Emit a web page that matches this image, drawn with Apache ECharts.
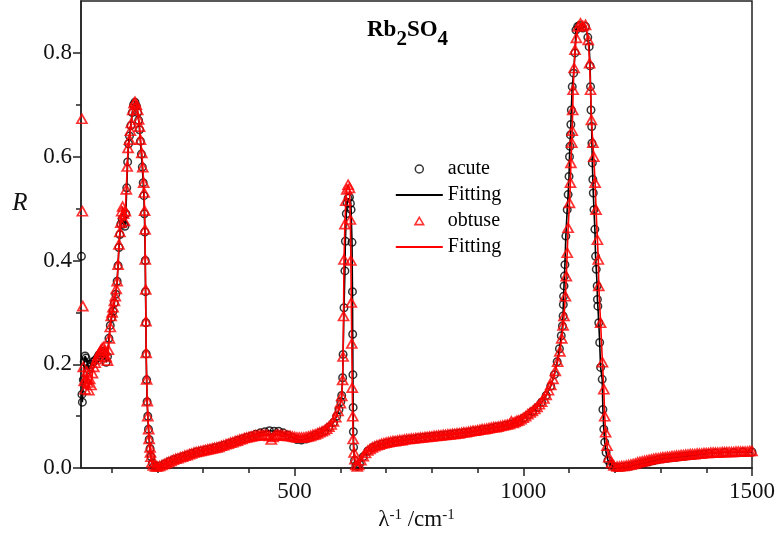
<!DOCTYPE html>
<html>
<head>
<meta charset="utf-8">
<script src="https://cdn.jsdelivr.net/npm/echarts@6/dist/echarts.min.js"></script>
<style>
html, body { margin: 0; padding: 0; background: #fff; }
#container { width: 778px; height: 536px; }
</style>
</head>
<body>
<div id="container"></div>
<script>
// [wavenumber cm^-1, R]
var acute = [
[34,.408],[35,.142],[36,.127],[38,.170],[40,.205],[42,.216],[44,.212],[47,.200],[50,.190],[53,.195],
[56,.200],[60,.205],[64,.208],[68,.212],[72,.218],[76,.222],[80,.225],[84,.222],[88,.204],[91,.215],
[94,.250],[97,.275],[100,.290],[103,.302],[106,.318],[109,.335],[112,.360],[114,.390],[116,.425],[118,.450],
[120,.470],[123,.480],[126,.470],[129,.466],[131,.490],[133,.540],[135,.590],[137,.625],[139,.640],[142,.660],
[145,.685],[148,.700],[151,.705],[154,.698],[157,.685],[159,.670],[161,.652],[163,.630],[165,.605],[167,.580],
[169,.550],[170.5,.525],[171.5,.490],[172.5,.455],[173.5,.400],[174,.340],[175,.280],[175.5,.220],[176.5,.170],[177.5,.128],
[179,.100],[180.5,.075],[182,.055],[184,.038],[186,.022],[189,.010],[193,.004],[198,.002],
[205,.004],[215,.008],[225,.012],[235,.016],[245,.019],[255,.022],[265,.025],[275,.028],[285,.031],[295,.033],
[305,.035],[315,.037],[325,.039],[335,.041],[345,.044],[355,.047],[365,.050],[375,.053],[385,.056],[395,.059],
[405,.062],[415,.065],[425,.068],[435,.070],[445,.072],[455,.071],[465,.071],[475,.068],[485,.064],[495,.059],
[505,.055],[515,.054],[525,.056],[535,.060],[545,.064],[555,.068],[565,.072],[575,.079],[585,.088],[592,.100],
[597,.113],[601,.128],[603,.140],[605,.174],[606,.219],[608,.309],[610,.380],[611,.437],[613,.490],[615,.511],
[617,.520],[620,.522],[622,.510],[623.5,.498],[625.5,.435],[626.5,.340],[627,.258],[627.5,.180],[628,.117],[628.5,.070],
[629,.040],[631,.015],[634,.005],[637,.003],[642,.008],[650,.022],[660,.033],[670,.039],[680,.043],[690,.046],
[700,.048],[710,.050],[720,.052],[730,.053],[740,.054],[750,.055],[760,.056],[770,.058],[780,.059],[790,.060],
[800,.061],[810,.062],[820,.063],[830,.064],[840,.065],[850,.066],[860,.067],[870,.068],[880,.069],[890,.071],
[900,.072],[910,.074],[920,.075],[930,.077],[940,.079],[950,.080],[960,.082],[970,.084],[980,.087],[990,.091],
[1000,.096],[1010,.102],[1020,.109],[1030,.117],[1040,.127],[1050,.140],[1060,.158],[1068,.180],[1074,.205],[1079,.230],
[1083,.255],[1085.5,.274],[1087,.293],[1087.5,.315],[1088,.331],[1089,.351],[1090,.370],[1091,.392],[1093,.447],[1096,.498],
[1098,.527],[1100,.562],[1101,.600],[1102,.620],[1103,.642],[1104,.662],[1105,.690],[1107,.735],[1110,.761],[1113,.800],
[1115,.844],[1119,.851],[1123,.853],[1130,.848],[1136,.851],[1141,.830],[1144,.812],[1146,.775],[1147,.735],[1148,.690],
[1149.5,.658],[1150,.626],[1151,.588],[1152,.556],[1153,.530],[1154.5,.498],[1156.5,.460],[1158,.408],[1159.5,.383],[1161.5,.351],
[1162,.325],[1163,.312],[1165,.280],[1167,.242],[1169,.194],[1172.5,.171],[1174,.113],[1176,.075],[1178,.050],[1181,.030],
[1185,.015],[1190,.007],[1197,.003],[1205,.001],[1215,.002],[1225,.003],[1235,.004],[1245,.006],[1255,.008],[1265,.010],
[1275,.012],[1285,.014],[1295,.016],[1305,.018],[1315,.019],[1325,.020],[1335,.021],[1345,.022],[1355,.023],[1365,.024],
[1375,.025],[1385,.026],[1395,.027],[1405,.028],[1420,.029],[1440,.030],[1460,.030],[1480,.031],[1500,.031]
];

var obtuse = [
[35,.673],[36,.495],[37,.312],[38,.195],[40,.168],[42,.152],[44,.172],[46,.186],[48,.165],[50,.150],
[52,.172],[55,.160],[58,.183],[61,.195],[64,.203],[67,.210],[70,.216],[73,.222],[76,.227],[79,.231],
[82,.233],[85,.226],[88,.214],[91,.207],[93,.228],[95,.250],[97,.272],[99,.293],[101,.300],[103,.310],
[106,.322],[108,.331],[110,.345],[112,.360],[114,.392],[116,.431],[118,.455],[120,.473],[122,.495],[124,.504],
[126,.490],[128,.476],[130,.495],[132,.537],[134,.581],[136,.617],[139,.633],[141,.650],[143,.665],[146,.690],
[149,.703],[151,.706],[154,.700],[157,.690],[159,.672],[161,.658],[163,.633],[166,.607],[168,.580],[170,.550],
[171,.531],[172,.496],[173,.460],[173.5,.402],[174.5,.344],[175,.283],[175.5,.222],[176.5,.171],[178,.129],[179,.100],
[181,.075],[182,.056],[184,.040],[185,.030],[186,.022],[188,.011],[191,.005],[196,.003],
[200,.003],[205,.004],[210,.006],[215,.008],[220,.010],[225,.012],[230,.014],[235,.016],[240,.018],[245,.019],
[250,.021],[255,.022],[260,.024],[265,.025],[270,.027],[275,.028],[280,.030],[285,.031],[290,.032],[295,.033],
[300,.034],[305,.035],[310,.036],[315,.037],[320,.038],[325,.039],[330,.040],[335,.041],[340,.043],[345,.044],
[350,.046],[355,.047],[360,.049],[365,.050],[370,.052],[375,.053],[380,.055],[385,.056],[390,.058],[395,.059],
[400,.060],[405,.061],[410,.062],[415,.063],[420,.063],[425,.064],[430,.064],[435,.064],[440,.064],[445,.062],
[449,.055],[453,.060],[457,.063],[461,.064],[465,.064],[470,.064],[475,.063],[480,.063],[485,.062],[490,.062],
[495,.061],[500,.060],[505,.059],[510,.059],[515,.059],[520,.059],[525,.060],[530,.061],[535,.062],[540,.064],
[545,.065],[550,.067],[555,.069],[560,.071],[565,.073],[570,.076],[575,.080],[580,.084],[585,.090],[590,.098],
[595,.110],[600,.125],[603,.139],[605,.170],[606,.215],[607,.293],[608,.402],[610,.470],[612,.515],[614,.537],
[617,.546],[620,.540],[622,.479],[623,.400],[624,.319],[625,.240],[626,.155],[627,.100],[628,.056],[630,.030],
[632,.017],[634,.006],[637,.003],[640,.006],[645,.015],[650,.023],[655,.029],[660,.034],[665,.037],[670,.040],
[675,.042],[680,.044],[685,.045],[690,.047],[695,.048],[700,.049],[705,.050],[710,.051],[715,.052],[720,.052],
[725,.053],[730,.054],[735,.054],[740,.055],[745,.056],[750,.056],[755,.057],[760,.057],[765,.058],[770,.058],
[775,.059],[780,.059],[785,.060],[790,.060],[795,.061],[800,.061],[805,.062],[810,.062],[815,.063],[820,.063],
[825,.064],[830,.064],[835,.065],[840,.065],[845,.066],[850,.066],[855,.067],[860,.067],[865,.068],[870,.069],
[875,.069],[880,.070],[885,.071],[890,.072],[895,.072],[900,.073],[905,.074],[910,.075],[915,.075],[920,.076],
[925,.077],[930,.078],[935,.079],[940,.079],[945,.080],[950,.081],[955,.082],[960,.083],[965,.084],[970,.085],
[974,.090],[978,.087],[982,.089],[986,.091],[990,.092],[995,.094],[1000,.097],[1005,.100],[1010,.104],[1015,.107],
[1020,.110],[1025,.114],[1030,.118],[1035,.123],[1040,.128],[1045,.134],[1050,.141],[1055,.150],[1060,.160],[1065,.172],
[1070,.187],[1075,.205],[1080,.225],[1084,.250],[1087,.275],[1089,.293],[1092,.331],[1094,.370],[1096,.415],[1098,.463],
[1101,.511],[1103,.550],[1104,.588],[1106,.627],[1107,.650],[1108,.690],[1109,.729],[1111,.771],[1113,.806],[1116,.829],
[1120,.851],[1125,.857],[1130,.852],[1136,.854],[1142,.825],[1145,.780],[1147,.729],[1149,.671],[1152,.627],[1154,.600],
[1157,.550],[1159,.498],[1162,.440],[1164,.402],[1165,.351],[1169,.280],[1173,.204],[1176,.152],[1178,.100],[1180,.069],
[1183,.043],[1187,.021],[1193,.010],[1198,.005],[1205,.003],[1210,.003],[1215,.004],[1220,.004],[1225,.005],[1230,.006],
[1235,.007],[1240,.008],[1245,.009],[1250,.011],[1255,.012],[1260,.013],[1265,.014],[1270,.015],[1275,.016],[1280,.017],
[1285,.018],[1290,.019],[1295,.019],[1300,.020],[1305,.021],[1310,.021],[1315,.022],[1320,.022],[1325,.023],[1330,.023],
[1335,.024],[1340,.024],[1345,.025],[1350,.025],[1355,.026],[1360,.026],[1365,.027],[1370,.027],[1375,.027],[1380,.028],
[1385,.028],[1390,.028],[1395,.029],[1400,.029],[1405,.029],[1410,.030],[1415,.030],[1420,.030],[1425,.030],[1430,.030],
[1435,.031],[1440,.031],[1445,.031],[1450,.031],[1455,.031],[1460,.031],[1465,.032],[1470,.032],[1475,.032],[1480,.032],
[1485,.032],[1490,.032],[1495,.033],[1500,.033]
];

var xMajorTicks = [500, 1000, 1500];
var xMinorTicks = [100, 200, 300, 400, 500, 600, 700, 800, 900, 1000, 1100, 1200, 1300, 1400, 1500];
var yMajorTicks = [0, 0.2, 0.4, 0.6, 0.8];
var yMinorTicks = [0.1, 0.3, 0.5, 0.7];

var dom = document.getElementById('container');
var myChart = echarts.init(dom);
var serif = 'Liberation Serif';
var axisColor = '#222';

// the fitted curves start after the first few edge points
var acuteFit = acute.slice(1);
var obtuseFit = obtuse.slice(3);

// legend icons drawn in a 47x8 box (the corner moves pin the box so nothing gets stretched)
var iconLine = 'path://M0,0L0,0M47,8L47,8M0,3.1L47,3.1L47,4.9L0,4.9Z';
var iconTriangle = 'path://M0,0L0,0M47,8L47,8M19.2,7.6L23.5,0.3L27.8,7.6Z';

var option = {
    animation: false,
    backgroundColor: '#fff',
    title: {
        text: '{a|Rb}{b|2}{a|SO}{b|4}',
        left: 367,
        top: 19,
        padding: 0,
        textStyle: {
            rich: {
                a: { fontFamily: serif, fontWeight: 'bold', fontSize: 23, color: '#000', verticalAlign: 'bottom', padding: [0, 0, 8, 0] },
                b: { fontFamily: serif, fontWeight: 'bold', fontSize: 21, color: '#000', verticalAlign: 'bottom' }
            }
        }
    },
    legend: {
        orient: 'vertical',
        left: 395,
        top: 159,
        padding: 0,
        itemWidth: 47,
        itemHeight: 8,
        itemGap: 6,
        selectedMode: false,
        textStyle: { fontFamily: serif, fontSize: 20, color: '#000', lineHeight: 20 },
        formatter: function (name) { return name.trim(); },
        data: [
            { name: 'acute', icon: 'circle', itemStyle: { color: 'transparent', borderColor: '#000', borderWidth: 1.5 } },
            { name: 'Fitting', icon: iconLine, itemStyle: { color: '#000', borderWidth: 0 } },
            { name: 'obtuse', icon: iconTriangle, itemStyle: { color: 'transparent', borderColor: '#ff0000', borderWidth: 1.6 } },
            { name: 'Fitting ', icon: iconLine, itemStyle: { color: '#ff0000', borderWidth: 0 } }
        ]
    },
    grid: {
        left: 81, right: 25, top: 1, bottom: 67,
        show: true, borderColor: axisColor, borderWidth: 1.5
    },
    xAxis: [{
        type: 'value', min: 33, max: 1500, position: 'bottom',
        axisLine: { onZero: false, lineStyle: { color: axisColor, width: 1.5 } },
        axisTick: { customValues: xMajorTicks, length: 8, lineStyle: { color: axisColor, width: 1.5 } },
        axisLabel: {
            customValues: xMajorTicks, fontFamily: serif, fontSize: 23, color: '#111', margin: 12,
            formatter: function (v) { return String(v); }
        },
        splitLine: { show: false },
        name: '{a|λ}{s|-1}{a| /cm}{s|-1}',
        nameLocation: 'middle',
        nameGap: 36,
        nameTextStyle: {
            rich: {
                a: { fontFamily: serif, fontSize: 23, color: '#111', lineHeight: 26, verticalAlign: 'top' },
                s: { fontFamily: serif, fontSize: 15, color: '#111', lineHeight: 14, verticalAlign: 'top' }
            }
        }
    }, {
        type: 'value', min: 33, max: 1500, position: 'bottom',
        axisLine: { show: false },
        axisTick: { customValues: xMinorTicks, length: 5, lineStyle: { color: axisColor, width: 1.5 } },
        axisLabel: { show: false },
        splitLine: { show: false }
    }],
    yAxis: [{
        type: 'value', min: 0, max: 0.9, position: 'left',
        axisLine: { onZero: false, lineStyle: { color: axisColor, width: 1.5 } },
        axisTick: { customValues: yMajorTicks, length: 8, lineStyle: { color: axisColor, width: 1.5 } },
        axisLabel: {
            customValues: yMajorTicks, fontFamily: serif, fontSize: 23, color: '#111', margin: 9,
            formatter: function (v) { return v.toFixed(1); }
        },
        splitLine: { show: false },
        name: 'R\n ',
        nameLocation: 'middle',
        nameRotate: 0,
        nameGap: 61,
        nameTextStyle: {
            fontFamily: serif, fontStyle: 'italic', fontSize: 25, color: '#111',
            align: 'center', verticalAlign: 'middle', lineHeight: 62
        }
    }, {
        type: 'value', min: 0, max: 0.9, position: 'left',
        axisLine: { show: false },
        axisTick: { customValues: yMinorTicks, length: 5, lineStyle: { color: axisColor, width: 1.5 } },
        axisLabel: { show: false },
        splitLine: { show: false }
    }],
    series: [{
        name: 'acute',
        type: 'scatter',
        data: acute,
        symbol: 'circle',
        symbolSize: 7.5,
        itemStyle: { color: 'transparent', borderColor: '#000', borderWidth: 1.5 },
        z: 2
    }, {
        name: 'Fitting',
        type: 'line',
        data: acuteFit,
        symbol: 'none',
        itemStyle: { color: '#000' },
        lineStyle: { color: '#000', width: 1.6 },
        z: 3
    }, {
        name: 'obtuse',
        type: 'scatter',
        data: obtuse,
        symbol: 'triangle',
        symbolSize: [10, 9],
        itemStyle: { color: 'transparent', borderColor: '#ff0000', borderWidth: 1.7 },
        z: 4
    }, {
        name: 'Fitting ',
        type: 'line',
        data: obtuseFit,
        symbol: 'none',
        itemStyle: { color: '#ff0000' },
        lineStyle: { color: '#ff0000', width: 1.6 },
        z: 5
    }]
};

if (option && typeof option === 'object') {
    myChart.setOption(option);
}
</script>
</body>
</html>
